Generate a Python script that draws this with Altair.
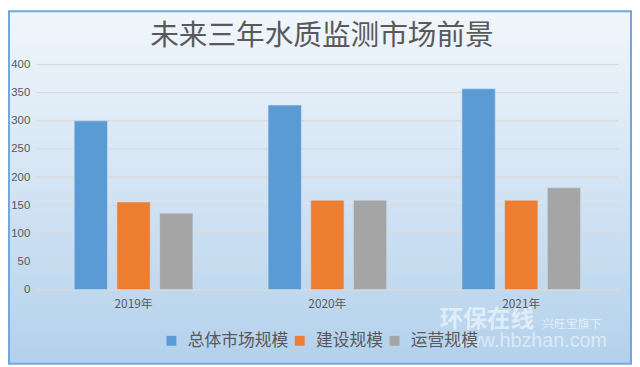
import altair as alt
import pandas as pd

years = ["2019年", "2020年", "2021年"]
series = ["总体市场规模", "建设规模", "运营规模"]
total_vals = [300, 328, 357]
build_vals = [156, 159, 159]
ops_vals = [136, 159, 181]
colors = ["#5b9bd5", "#ed7d31", "#a5a5a5"]
y_ticks = [0, 50, 100, 150, 200, 250, 300, 350, 400]
title_text = "未来三年水质监测市场前景"

rows = []
for i, y in enumerate(years):
    for s, vals in zip(series, [total_vals, build_vals, ops_vals]):
        rows.append({"year": y, "series": s, "value": vals[i]})
df = pd.DataFrame(rows)

W, H = 589, 228
PL, PT = 29, 55
TOTW, TOTH = 632, 359

yscale = alt.Scale(domain=[0, 400], nice=False)
yaxis = alt.Axis(values=y_ticks, labelFontSize=11.5, labelColor="#595959",
                 labelFont="Liberation Sans", labelPadding=7,
                 ticks=False, domain=False, grid=False, zindex=1)

bg = alt.Chart(pd.DataFrame({"a": [0]})).mark_rect(
    fill=alt.Gradient(
        gradient="linear", x1=0, y1=0, x2=0, y2=1,
        stops=[alt.GradientStop(color="#f1f6fb", offset=0),
               alt.GradientStop(color="#d3e4f4", offset=0.5),
               alt.GradientStop(color="#b3d1ec", offset=1)]),
    stroke="#6fa8dc", strokeWidth=2,
).encode(
    x=alt.value(-PL + 1), x2=alt.value(TOTW - PL - 1),
    y=alt.value(-PT + 1), y2=alt.value(TOTH - PT - 1),
)

grid = alt.Chart(pd.DataFrame({"v": y_ticks})).mark_rule(
    color="#d9d9d9", strokeWidth=1.2
).encode(
    y=alt.Y("v:Q", scale=yscale, axis=yaxis, title=None),
    x=alt.value(0), x2=alt.value(W),
)

bars = alt.Chart(df).mark_bar(stroke="#cfe0f2", strokeWidth=0.6).encode(
    x=alt.X("year:N", sort=years, title=None,
            scale=alt.Scale(paddingInner=0, paddingOuter=0),
            axis=alt.Axis(labelAngle=0, labelFontSize=12, labelColor="#595959",
                          labelFont="Noto Sans CJK SC", labelPadding=9,
                          ticks=False, domainColor="#d9d9d9", grid=False,
                          zindex=1)),
    xOffset=alt.XOffset("series:N", sort=series,
                        scale=alt.Scale(paddingInner=0.22, paddingOuter=0.88)),
    y=alt.Y("value:Q", title=None, scale=yscale, axis=yaxis),
    color=alt.Color("series:N", sort=series,
                    scale=alt.Scale(domain=series, range=colors),
                    legend=alt.Legend(title=None, orient="none", direction="horizontal",
                                      legendX=128, legendY=271,
                                      symbolType="square", symbolSize=100,
                                      symbolStrokeWidth=0,
                                      labelFontSize=17, labelColor="#595959",
                                      labelFont="Noto Sans CJK SC",
                                      labelOffset=8, columnPadding=3)),
)

title = alt.Chart(pd.DataFrame({"t": [title_text]})).mark_text(
    fontSize=29, color="#595959", font="Noto Sans CJK SC",
    align="center", baseline="middle",
).encode(x=alt.value(289), y=alt.value(-29), text="t:N")

wm = alt.Chart(pd.DataFrame({"t": ["环保在线"]})).mark_text(
    fontSize=24, fontWeight="bold", color="white", opacity=0.55,
    font="Noto Sans CJK SC", align="left", baseline="middle",
).encode(x=alt.value(408), y=alt.value(259), text="t:N")
wm2 = alt.Chart(pd.DataFrame({"t": ["www.hbzhan.com"]})).mark_text(
    fontSize=20, color="white", opacity=0.5,
    font="Liberation Sans", align="left", baseline="middle",
).encode(x=alt.value(421), y=alt.value(280), text="t:N")
wm3 = alt.Chart(pd.DataFrame({"t": ["兴旺宝旗下"]})).mark_text(
    fontSize=12, color="white", opacity=0.6,
    font="Noto Sans CJK SC", align="left", baseline="middle",
).encode(x=alt.value(512), y=alt.value(263), text="t:N")

chart = alt.layer(bg, grid, bars, title, wm, wm2, wm3).properties(
    width=W, height=H,
    autosize=alt.AutoSizeParams(type="none"),
    padding={"left": PL, "top": PT, "right": TOTW - PL - W, "bottom": TOTH - PT - H},
).configure_view(stroke=None)

chart.save("out.html", embed_options={"renderer": "svg", "actions": False})
